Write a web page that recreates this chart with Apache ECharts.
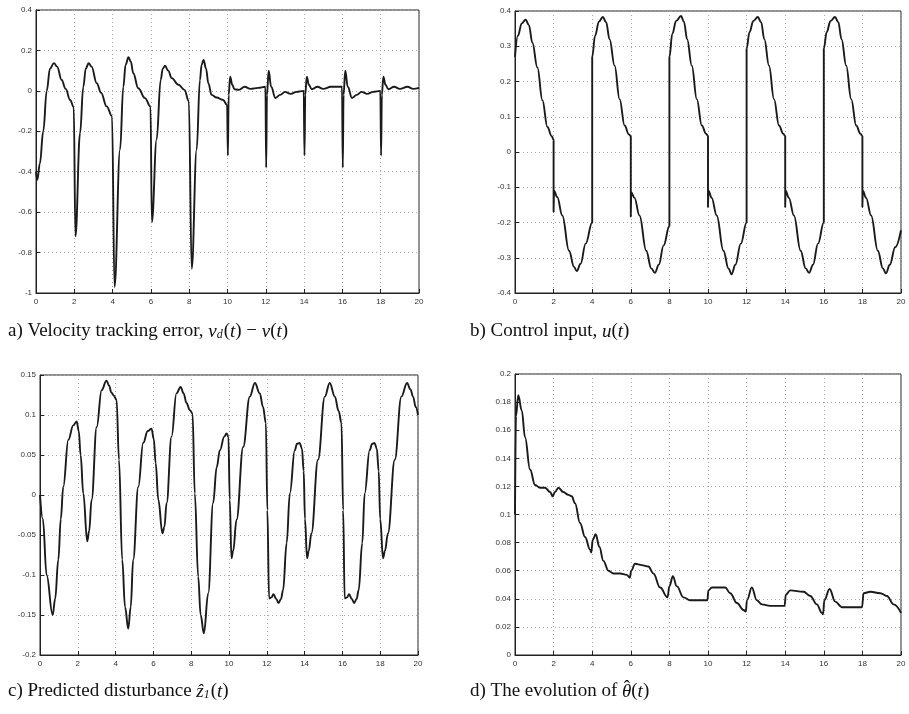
<!DOCTYPE html>
<html>
<head>
<meta charset="utf-8">
<script src="https://cdn.jsdelivr.net/npm/echarts@6/dist/echarts.min.js"></script>
<style>
html,body{margin:0;padding:0;background:#fff;}
#c{width:909px;height:714px;}
</style>
</head>
<body>
<div id="c"></div>
<script>
// ---- data: [t, value] ----
const xTicks = [0, 20, 2]; // min, max, interval (s)

const velErr = [[0,-0.40],[0.07,-0.44],[0.2,-0.36],[0.38,-0.2],[0.56,0],[0.73,0.11],[0.94,0.137],[1.1,0.12],[1.34,0.054],[1.55,0.01],[1.78,-0.045],[1.97,-0.08],[2.06,-0.72],[2.3,-0.21],[2.47,0.02],[2.6,0.11],[2.75,0.137],[2.9,0.12],[3.17,0.038],[3.4,-0.01],[3.69,-0.077],[3.97,-0.125],[4.1,-0.97],[4.39,-0.29],[4.56,0.02],[4.68,0.13],[4.83,0.166],[4.95,0.145],[5.08,0.087],[5.34,0.013],[5.69,-0.036],[5.98,-0.077],[6.05,-0.65],[6.3,-0.24],[6.51,0.054],[6.62,0.11],[6.74,0.124],[6.9,0.1],[7.09,0.063],[7.44,0.03],[7.75,0.005],[7.98,-0.05],[8.13,-0.88],[8.39,-0.29],[8.56,0.054],[8.65,0.13],[8.75,0.153],[8.88,0.11],[9.0,0.038],[9.17,-0.02],[9.43,-0.033],[9.77,-0.045],[9.98,-0.07],[10.02,-0.32],[10.06,-0.02],[10.14,0.07],[10.25,0.03],[10.36,0.008],[10.6,0.005],[10.9,0.02],[11.2,0.01],[11.6,0.015],[11.98,0.02],[12.02,-0.38],[12.06,-0.02],[12.15,0.1],[12.28,0.02],[12.5,-0.035],[12.75,-0.02],[13.0,-0.005],[13.3,-0.015],[13.6,-0.005],[13.98,0],[14.02,-0.32],[14.06,-0.02],[14.14,0.07],[14.25,0.03],[14.4,0.008],[14.7,0.02],[15.0,0.01],[15.4,0.02],[15.98,0.02],[16.02,-0.38],[16.06,-0.02],[16.15,0.1],[16.28,0.02],[16.5,-0.035],[16.75,-0.02],[17.0,-0.005],[17.3,-0.015],[17.6,-0.005],[17.98,0],[18.02,-0.32],[18.06,-0.02],[18.14,0.07],[18.25,0.03],[18.4,0.008],[18.7,0.02],[19.0,0.01],[19.4,0.02],[19.7,0.01],[20,0.015]];

const ctrlInput = [[0,0.27],[0.15,0.33],[0.35,0.365],[0.55,0.375],[0.72,0.36],[0.9,0.31],[1.16,0.24],[1.42,0.147],[1.68,0.071],[1.9,0.045],[2.0,0.035],[2.0,-0.17],[2.02,-0.11],[2.19,-0.128],[2.45,-0.18],[2.8,-0.28],[3.06,-0.326],[3.2,-0.338],[3.4,-0.317],[3.66,-0.26],[4.0,-0.2],[4.0,0.27],
[4.15,0.33],[4.35,0.37],[4.55,0.383],[4.72,0.368],[4.9,0.32],[5.16,0.245],[5.42,0.15],[5.68,0.075],[5.9,0.05],[6.0,0.045],[6.0,-0.184],[6.02,-0.115],[6.19,-0.13],[6.45,-0.18],[6.8,-0.28],[7.06,-0.33],[7.25,-0.343],[7.45,-0.32],[7.7,-0.265],[8.0,-0.21],[8.0,0.27],
[8.15,0.335],[8.35,0.372],[8.6,0.386],[8.75,0.37],[8.92,0.32],[9.16,0.245],[9.42,0.15],[9.68,0.075],[9.9,0.052],[10.0,0.045],[10.0,-0.156],[10.02,-0.11],[10.19,-0.13],[10.45,-0.18],[10.8,-0.28],[11.06,-0.33],[11.22,-0.347],[11.42,-0.32],[11.7,-0.26],[12.0,-0.2],[12.0,0.293],
[12.15,0.34],[12.35,0.372],[12.58,0.383],[12.75,0.368],[12.92,0.32],[13.16,0.245],[13.42,0.15],[13.68,0.075],[13.9,0.052],[14.0,0.045],[14.0,-0.156],[14.02,-0.11],[14.19,-0.13],[14.45,-0.18],[14.8,-0.28],[15.06,-0.33],[15.24,-0.343],[15.44,-0.32],[15.7,-0.26],[16.0,-0.2],[16.0,0.293],
[16.15,0.34],[16.35,0.372],[16.58,0.383],[16.75,0.368],[16.92,0.32],[17.16,0.245],[17.42,0.15],[17.68,0.075],[17.9,0.052],[18.0,0.045],[18.0,-0.156],[18.02,-0.11],[18.19,-0.13],[18.45,-0.18],[18.8,-0.28],[19.06,-0.33],[19.22,-0.344],[19.42,-0.32],[19.7,-0.27],[20,-0.222]];

const predDist = [[0,0],[0.15,-0.03],[0.35,-0.1],[0.67,-0.15],[0.8,-0.13],[0.97,-0.081],[1.1,-0.03],[1.23,0.01],[1.5,0.069],[1.76,0.087],[1.94,0.092],[2.05,0.08],[2.15,0.05],[2.29,0.002],[2.5,-0.058],[2.6,-0.045],[2.73,-0.006],[3.0,0.085],[3.26,0.131],[3.52,0.143],[3.65,0.137],[3.78,0.128],[3.91,0.124],[4.05,0.119],[4.18,0.044],[4.35,-0.081],[4.5,-0.14],[4.67,-0.167],[4.8,-0.14],[4.93,-0.081],[5.2,0.01],[5.46,0.065],[5.7,0.08],[5.9,0.083],[6.02,0.07],[6.12,0.04],[6.26,-0.006],[6.48,-0.048],[6.58,-0.04],[6.7,-0.01],[6.96,0.073],[7.22,0.127],[7.44,0.135],[7.6,0.127],[7.75,0.115],[7.93,0.106],[8.07,0.102],[8.19,0.002],[8.37,-0.102],[8.5,-0.15],[8.67,-0.173],[8.9,-0.123],[9.16,-0.01],[9.35,0.035],[9.52,0.056],[9.75,0.073],[9.87,0.077],[9.97,0.073],[10.04,-0.006],[10.13,-0.079],[10.22,-0.07],[10.4,-0.031],[10.75,0.06],[11.1,0.123],[11.37,0.14],[11.63,0.127],[11.8,0.11],[11.95,0.09],[12.03,-0.019],[12.12,-0.129],[12.25,-0.128],[12.35,-0.124],[12.5,-0.13],[12.62,-0.135],[12.75,-0.13],[12.86,-0.119],[13.05,-0.06],[13.22,0.002],[13.48,0.056],[13.6,0.064],[13.74,0.065],[13.86,0.058],[13.95,0.03],[14.02,-0.03],[14.13,-0.079],[14.22,-0.07],[14.36,-0.048],[14.71,0.044],[15.07,0.123],[15.33,0.14],[15.6,0.123],[15.8,0.105],[15.95,0.09],[16.04,-0.019],[16.12,-0.129],[16.25,-0.128],[16.35,-0.124],[16.5,-0.13],[16.62,-0.135],[16.75,-0.13],[16.86,-0.119],[17.05,-0.06],[17.18,0.002],[17.44,0.056],[17.58,0.064],[17.7,0.065],[17.82,0.058],[17.92,0.03],[18.0,-0.03],[18.15,-0.079],[18.25,-0.07],[18.41,-0.048],[18.77,0.044],[19.12,0.123],[19.42,0.14],[19.6,0.132],[19.74,0.123],[19.88,0.11],[20,0.1]];

const thetaHat = [[0,0.1],[0.05,0.17],[0.17,0.185],[0.35,0.174],[0.52,0.155],[0.78,0.132],[1.04,0.121],[1.3,0.119],[1.56,0.119],[1.82,0.116],[1.95,0.113],[2.07,0.116],[2.25,0.119],[2.5,0.116],[2.77,0.114],[2.94,0.113],[3.11,0.108],[3.37,0.094],[3.63,0.084],[3.89,0.075],[3.95,0.073],[4.03,0.082],[4.18,0.086],[4.37,0.077],[4.58,0.067],[4.84,0.06],[5.1,0.058],[5.45,0.058],[5.79,0.057],[5.95,0.055],[6.02,0.06],[6.22,0.065],[6.57,0.064],[6.91,0.063],[7.17,0.058],[7.52,0.048],[7.9,0.041],[8.0,0.049],[8.18,0.056],[8.38,0.049],[8.73,0.041],[9.07,0.039],[9.5,0.039],[9.97,0.039],[10.02,0.046],[10.2,0.048],[10.54,0.048],[10.89,0.048],[11.15,0.044],[11.5,0.037],[11.84,0.032],[11.96,0.031],[12.02,0.039],[12.27,0.048],[12.53,0.039],[12.79,0.036],[13.22,0.035],[13.97,0.035],[14.03,0.043],[14.26,0.046],[14.95,0.045],[15.3,0.042],[15.64,0.036],[15.9,0.03],[15.96,0.029],[16.03,0.039],[16.3,0.047],[16.59,0.038],[16.94,0.034],[17.37,0.034],[17.98,0.034],[18.06,0.044],[18.41,0.045],[18.93,0.044],[19.27,0.042],[19.62,0.036],[20,0.03]];

// y-axis ranges: [min, max, interval]
const yRanges = [[-1, 0.4, 0.2], [-0.4, 0.4, 0.1], [-0.2, 0.15, 0.05], [0, 0.2, 0.02]];

// ---- layout ----
const grids = [
  {left: 36, top: 10, width: 383, height: 283},
  {left: 515, top: 11, width: 386, height: 282},
  {left: 40, top: 375, width: 378, height: 280},
  {left: 515, top: 374, width: 386, height: 281}
];
const seriesData = [velErr, ctrlInput, predDist, thetaHat];

const labelStyle = {fontSize: 8, color: '#333', fontFamily: 'Liberation Sans, Arial, sans-serif'};
const splitLine = {show: true, lineStyle: {color: '#a8a8a8', type: [1, 3], width: 1}};

function fmt(v) { return String(Math.round(v * 1000) / 1000); }

const option = {
  backgroundColor: '#fff',
  animation: false,
  grid: grids.map(g => Object.assign({show: true, borderColor: '#222', borderWidth: 1, backgroundColor: 'transparent'}, g)),
  xAxis: grids.map((g, i) => ({
    type: 'value', gridIndex: i, min: xTicks[0], max: xTicks[1], interval: xTicks[2],
    axisLine: {show: true, onZero: false, lineStyle: {color: '#222'}},
    axisTick: {show: true, inside: true, length: 4, lineStyle: {color: '#222'}},
    axisLabel: Object.assign({margin: 5, formatter: fmt}, labelStyle),
    splitLine: splitLine
  })),
  yAxis: grids.map((g, i) => ({
    type: 'value', gridIndex: i, min: yRanges[i][0], max: yRanges[i][1], interval: yRanges[i][2],
    axisLine: {show: true, onZero: false, lineStyle: {color: '#222'}},
    axisTick: {show: true, inside: true, length: 4, lineStyle: {color: '#222'}},
    axisLabel: Object.assign({margin: 4, formatter: fmt}, labelStyle),
    splitLine: splitLine
  })),
  series: seriesData.map((d, i) => ({
    type: 'line', xAxisIndex: i, yAxisIndex: i, data: d,
    showSymbol: false, smooth: 0.4, smoothMonotone: 'x',
    lineStyle: {color: '#1a1a1a', width: 1.9}
  })),
  graphic: []
};

const capFont = 'Liberation Serif, DejaVu Serif, serif';
const rich = {
  n: {fontSize: 19, fontFamily: capFont, fill: '#111', color: '#111'},
  i: {fontSize: 19, fontFamily: capFont, fontStyle: 'italic', fill: '#111', color: '#111'},
  s: {fontSize: 12, fontFamily: capFont, fontStyle: 'italic', fill: '#111', color: '#111', verticalAlign: 'bottom', padding: [0, 1, 0, 0]}
};
const captions = [
  {x: 8, y: 333, text: '{n|a) Velocity tracking error, }{i|v}{s|d}{n|(}{i|t}{n|) − }{i|v}{n|(}{i|t}{n|)}'},
  {x: 470, y: 333, text: '{n|b) Control input, }{i|u}{n|(}{i|t}{n|)}'},
  {x: 8, y: 693, text: '{n|c) Predicted disturbance }{i|ẑ}{s|1}{n|(}{i|t}{n|)}'},
  {x: 470, y: 693, text: '{n|d) The evolution of }{i|θ}{n|(}{i|t}{n|)}'}
];
captions.forEach(c => option.graphic.push({
  type: 'text', left: c.x, top: c.y - 11,
  style: {text: c.text, rich: rich, fill: '#111', font: '19px ' + capFont}
}));

// hat over theta in caption d
const mctx = document.createElement('canvas').getContext('2d');
mctx.font = '19px ' + capFont;
const preW = mctx.measureText('d) The evolution of ').width;
mctx.font = 'italic 19px ' + capFont;
const thW = mctx.measureText('θ').width;
option.graphic.push({
  type: 'text', left: 470 + preW + thW / 2 - 3, top: 693 - 14,
  style: {text: 'ˆ', fill: '#111', font: '19px ' + capFont}
});

const chart = echarts.init(document.getElementById('c'), null, {renderer: 'canvas'});
chart.setOption(option);
</script>
</body>
</html>
